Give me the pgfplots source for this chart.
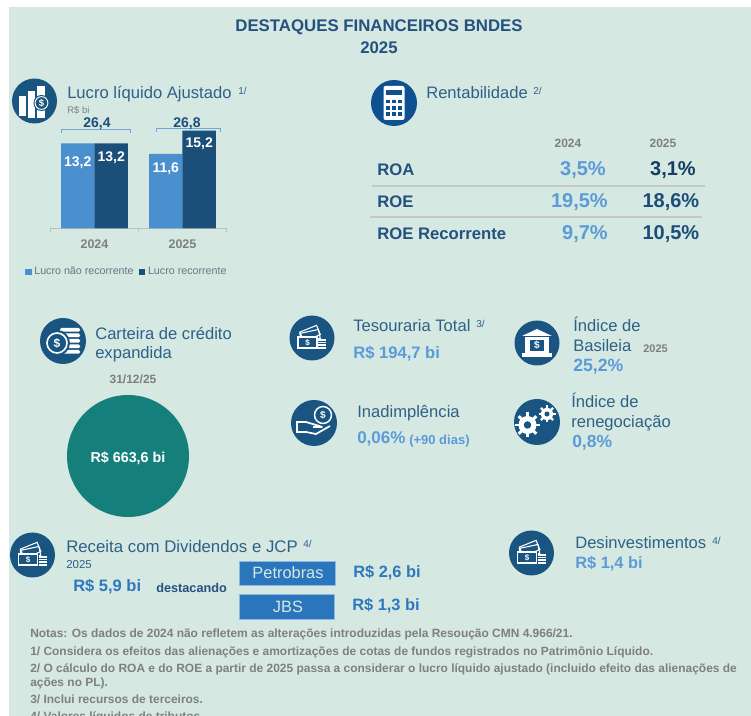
\documentclass[border=0pt]{standalone}
\usepackage{fontspec}
\setmainfont{Liberation Sans}
\usepackage{pgfplots}
\pgfplotsset{compat=1.18}
\definecolor{bgmint}{HTML}{D5E8E2}
\definecolor{lightbar}{HTML}{4A90CF}
\definecolor{darkbar}{HTML}{1B4E78}
\definecolor{icon}{HTML}{1A5582}
\definecolor{calc}{HTML}{0F5090}
\definecolor{head}{HTML}{2F6088}
\definecolor{titleblue}{HTML}{25517F}
\definecolor{val}{HTML}{5A9BD8}
\definecolor{val2}{HTML}{2F78BE}
\definecolor{boxblue}{HTML}{2A75BB}
\definecolor{greytxt}{HTML}{7F7F7F}
\definecolor{teal}{HTML}{15807B}
\newcommand{\fs}[1]{\fontsize{\fpeval{#1*0.75}}{\fpeval{#1*0.9}}\selectfont}
\newcommand{\dollar}[3]{\node[text=#3,inner sep=0,font=\bfseries\fs{#2}] at #1 {\$};}
\tikzset{
  lab/.style={anchor=mid west,inner sep=0,yshift=-1.5pt,text=head,font=\fs{16.6}},
  labc/.style={anchor=mid,inner sep=0,yshift=-1.5pt},
  note/.style={anchor=mid west,inner sep=0,yshift=-1.2pt,text=greytxt,font=\bfseries\fs{11.95}},
  rightv/.style={anchor=mid east,inner sep=0,yshift=-1.5pt,font=\bfseries\fs{20}},
}
\newcommand{\moneyicon}[2]{%
  \begin{scope}[shift={(#1,#2)}]
    \fill[icon] (0,0) circle[radius=22.5];
    \begin{scope}[rotate=22]
      \draw[white,line width=0.8pt] (-9,-10) rectangle (9,0);
    \end{scope}
    \begin{scope}[rotate=12]
      \draw[white,line width=0.8pt] (-11,-7) rectangle (8,2);
    \end{scope}
    \fill[icon] (-15,-2) rectangle (6,11);
    \draw[white,line width=0.9pt] (-14,-1) rectangle (5,10);
    \dollar{(-4.5,4.5)}{8}{white}
    \foreach \yy in {1,3.6,6.2,8.8} \fill[white] (6,\yy) rectangle (14,\yy+1.8);
  \end{scope}}
\newcommand{\gear}[4]{%
  \foreach \aa in {0,45,...,315}
    \draw[white,line width=#4] (#1,#2) -- ++(\aa:#3);
  \fill[white] (#1,#2) circle[radius=0.72*#3];
  \fill[icon] (#1,#2) circle[radius=0.3*#3];}
\begin{document}
\begin{tikzpicture}[x=0.75pt,y=-0.75pt]
\clip (0,0) rectangle (751,716);
\fill[white] (0,0) rectangle (751,716);
\fill[bgmint] (9,7) rectangle (751,716);

% title
\node[labc,text=titleblue,font=\bfseries\fs{16.8}] at (379,26) {DESTAQUES FINANCEIROS BNDES};
\node[labc,text=titleblue,font=\bfseries\fs{16.8}] at (379,48) {2025};

% profit bars, position given in pt (50.5 px, 228.5 px down)
\begin{axis}[
  at={(37.875pt,-171.375pt)}, anchor=south west,
  scale only axis, width=132pt, height=96.6pt,
  xmin=-0.5, xmax=1.5, ymin=0, ymax=20,
  clip=false,
  axis x line=bottom, axis y line=none,
  axis line style={draw=black!25,-},
  xtick={0,1}, xticklabels={2024,2025},
  major tick length=0pt,
  minor xtick={-0.5,0.5,1.5}, minor tick length=3pt,
  tick style={draw=black!25},
  tick align=outside,
  xticklabel style={text=greytxt,font=\bfseries\fs{12.5},yshift=-5pt},
  ybar, bar width=0.38,
  nodes near coords,
  point meta=y,
  /pgf/number format/.cd,fixed,fixed zerofill,precision=1,use comma,assume math mode=true,
  /pgfplots/.cd,
  legend columns=2,
  legend cell align=left,
  legend style={at={(-0.145,-0.338)},anchor=west,draw=none,fill=none,inner sep=0pt,
    font=\fs{10.7},text=greytxt!70!head,
    /tikz/every even column/.append style={column sep=2pt}},
  legend image code/.code={\fill[#1] (0pt,-2.4pt) rectangle (4.8pt,2.4pt);},
  visualization depends on={\thisrow{off} \as \off},
  every node near coord/.append style={text=white,font=\bfseries\fs{14},anchor=center,yshift=-\off*0.75pt},
]
\addplot[fill=lightbar,draw=none,bar shift=-0.19] table[x=x,y=y] {
x y off
0 13.2 19
1 11.6 15
};
\addlegendentry{Lucro não recorrente}
\addplot[fill=darkbar,draw=none,bar shift=0.19] table[x=x,y=y] {
x y off
0 13.2 14
1 15.2 13
};
\addlegendentry{Lucro recorrente}
\end{axis}

% brackets over the bars
\draw[lightbar!80,line width=0.6pt] (61,133) -- (61,129) -- (130,129) -- (130,133);
\draw[lightbar!80,line width=0.6pt] (156,132) -- (156,128) -- (220,128) -- (220,132);
\node[labc,text=darkbar,font=\bfseries\fs{14}] at (97,122) {26,4};
\node[labc,text=darkbar,font=\bfseries\fs{14}] at (187,122) {26,8};

% lucro heading
\begin{scope}[shift={(34.5,101)}]
  \fill[icon] (0,0) circle[radius=22.5];
  \fill[white] (-16,-5) rectangle (-8.5,15);
  \fill[white] (-7,-10) rectangle (0,17);
  \fill[white] (2,-15) rectangle (10.5,17);
  \fill[icon] (7,2) circle[radius=8];
  \draw[white,line width=0.7pt] (7,2) circle[radius=6.4];
  \dollar{(7,2)}{9.5}{white}
\end{scope}
\node[lab] at (67,93) {Lucro líquido Ajustado};
\node[lab,font=\fs{10}] at (238,89) {1/};
\node[lab,font=\fs{9.5},text=greytxt] at (67,108) {R\$ bi};

% rentabilidade
\begin{scope}[shift={(394,103)}]
  \fill[calc] (0,0) circle[radius=23];
  \fill[white,rounded corners=1.5pt] (-10.5,-17) rectangle (10.5,17);
  \fill[calc] (-8,-13) rectangle (8,-7.5);
  \foreach \xx in {-6,0,6} \foreach \yy in {-1.5,5,11}
    \fill[calc] (\xx-1.6,\yy-1.6) rectangle (\xx+1.6,\yy+1.6);
\end{scope}
\node[lab] at (426,93) {Rentabilidade};
\node[lab,font=\fs{10}] at (533,89) {2/};
\node[labc,text=greytxt,font=\bfseries\fs{12}] at (568,142) {2024};
\node[labc,text=greytxt,font=\bfseries\fs{12}] at (663,142) {2025};
\foreach \yy/\nm in {170/ROA,202/ROE,234/ROE Recorrente}
  \node[lab,text=titleblue,font=\bfseries\fs{16.7}] at (377,\yy) {\nm};
\draw[black!22,line width=1pt] (372,186) -- (705,186);
\draw[black!22,line width=1pt] (370,217) -- (702,217);
\node[rightv,text=val] at (606,170) {3,5\%};
\node[rightv,text=val] at (608,202) {19,5\%};
\node[rightv,text=val] at (608,234) {9,7\%};
\node[rightv,text=darkbar!80!black] at (696,170) {3,1\%};
\node[rightv,text=darkbar] at (699.5,202) {18,6\%};
\node[rightv,text=darkbar] at (699.5,234) {10,5\%};

% carteira
\begin{scope}[shift={(63,341)}]
  \fill[icon] (0,0) circle[radius=23];
  \foreach \yy in {-11,-5.5,0,5.5,11}
    \fill[white,rounded corners=1pt] (-3,\yy-2) rectangle (17,\yy+1.6);
  \fill[icon] (-6,2) circle[radius=13];
  \draw[white,line width=1.2pt] (-6,2) circle[radius=10];
  \dollar{(-6,2)}{12}{white}
\end{scope}
\node[lab] at (95,334) {Carteira de crédito};
\node[lab] at (95,353) {expandida};
\node[labc,text=greytxt,font=\bfseries\fs{12}] at (133,378) {31/12/25};
\fill[teal] (128,456) circle[radius=61];
\node[labc,text=white,font=\bfseries\fs{14.3}] at (128,457) {R\$ 663,6 bi};

% tesouraria
\moneyicon{312}{338}
\node[lab] at (353,326) {Tesouraria Total};
\node[lab,font=\fs{10}] at (476,322) {3/};
\node[lab,text=val,font=\bfseries\fs{16.6}] at (353,353) {R\$ 194,7 bi};

% basileia
\begin{scope}[shift={(537,343)}]
  \fill[icon] (0,0) circle[radius=22.5];
  \fill[white] (-15,-7) -- (0,-14) -- (15,-7) -- cycle;
  \fill[white] (-12,-5.5) rectangle (12,10);
  \fill[white] (-15,10) rectangle (15,14);
  \fill[icon] (-7,-3) rectangle (7,8);
  \dollar{(0,2.5)}{10}{white}
\end{scope}
\node[lab] at (573,326) {Índice de};
\node[lab] at (573,346) {Basileia};
\node[lab,text=greytxt,font=\bfseries\fs{11}] at (643,347) {2025};
\node[lab,text=val,font=\bfseries\fs{17.7}] at (573,366) {25,2\%};

% inadimplencia
\begin{scope}[shift={(314,423)}]
  \fill[icon] (0,0) circle[radius=23];
  \draw[white,line width=1.3pt,line join=round]
    (-17,-1) -- (-8,-1) -- (2,2) -- (8,4) -- (-1,4)
    (-17,9) -- (-8,9) -- (2,11) -- (16,3);
  \draw[white,line width=1.3pt] (-17,-2) -- (-17,10);
  \draw[white,line width=1.1pt] (9,-8) circle[radius=8.5];
  \dollar{(9,-8)}{10}{white}
\end{scope}
\node[lab] at (357,412) {Inadimplência};
\node[lab,text=val,font=\bfseries\fs{17}] at (357,438) {0,06\%};
\node[lab,text=val,font=\bfseries\fs{13}] at (409,439) {(+90 dias)};

% renegociacao
\begin{scope}[shift={(537,422)}]
  \fill[icon] (0,0) circle[radius=23];
  \gear{-9.5}{3}{12.5}{2.2pt}
  \gear{10}{-8}{8.5}{1.7pt}
\end{scope}
\node[lab] at (571,402) {Índice de};
\node[lab] at (571,422) {renegociação};
\node[lab,text=val,font=\bfseries\fs{17.5}] at (572,442) {0,8\%};

% dividendos
\moneyicon{32.5}{555}
\node[lab,font=\fs{16.8}] at (66,547) {Receita com Dividendos e JCP};
\node[lab,font=\fs{10}] at (303,542) {4/};
\node[lab,font=\fs{11.5}] at (66,563) {2025};
\node[lab,text=val2,font=\bfseries\fs{16.5}] at (73,586) {R\$ 5,9 bi};
\node[lab,text=titleblue,font=\bfseries\fs{12.7}] at (156,587) {destacando};
\draw[fill=boxblue,draw=val!70,line width=0.5pt] (239.5,561) rectangle (335,585);
\draw[fill=boxblue,draw=val!70,line width=0.5pt] (239.5,594) rectangle (334,619);
\node[labc,text=bgmint,font=\fs{16.4}] at (288,573) {Petrobras};
\node[labc,text=bgmint,font=\fs{16.4}] at (288,607) {JBS};
\node[lab,text=val2,font=\bfseries\fs{16.4}] at (353,572) {R\$ 2,6 bi};
\node[lab,text=val2,font=\bfseries\fs{16.4}] at (352,605) {R\$ 1,3 bi};

% desinvestimentos
\moneyicon{531.5}{553}
\node[lab] at (575,543) {Desinvestimentos};
\node[lab,font=\fs{10}] at (712,539) {4/};
\node[lab,text=val,font=\bfseries\fs{16.4}] at (575,563) {R\$ 1,4 bi};

% notes
\node[note] at (30,632) {Notas: Os dados de 2024 não refletem as alterações introduzidas pela Resoução CMN 4.966/21.};
\node[note] at (30,650) {1/ Considera os efeitos das alienações e amortizações de cotas de fundos registrados no Patrimônio Líquido.};
\node[note] at (30,667) {2/ O cálculo do ROA e do ROE a partir de 2025 passa a considerar o lucro líquido ajustado (incluido efeito das alienações de};
\node[note] at (30,681) {ações no PL).};
\node[note] at (30,698) {3/ Inclui recursos de terceiros.};
\node[note] at (30,715) {4/ Valores líquidos de tributos.};
\end{tikzpicture}
\end{document}
